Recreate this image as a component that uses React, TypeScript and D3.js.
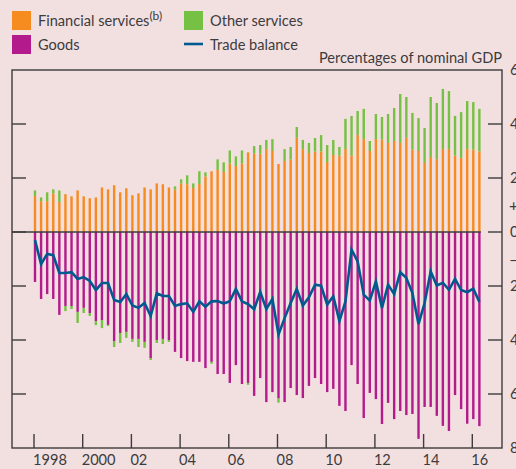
import React, { useEffect, useRef } from 'react';
import * as d3 from 'd3';

// Quarterly data, 1998 Q1 to 2016 Q2, percentages of nominal GDP
const startYear = 1998;

const financialServices = [
  1.33, 1.14, 1.14, 1.43, 1.11, 1.40, 1.32, 1.54, 1.32, 1.25, 1.28, 1.65, 1.58, 1.73, 1.47, 1.62,
  1.36, 1.43, 1.65, 1.58, 1.80, 1.77, 1.65, 1.57, 1.80, 1.77, 1.63, 1.78, 2.06, 2.25, 2.30, 2.22,
  2.54, 2.44, 2.54, 2.95, 2.90, 2.90, 3.07, 3.00, 2.52, 2.63, 2.68, 3.49, 3.07, 2.93, 2.98, 2.98,
  2.59, 2.85, 2.83, 3.07, 2.83, 3.59, 3.44, 3.00, 3.44, 3.42, 3.30, 3.37, 3.30, 3.49, 3.05, 3.00,
  2.56, 2.78, 2.70, 3.07, 3.07, 2.83, 2.75, 3.07, 3.05, 2.98,
];

// positive values stack above financial services, negative ones below goods
const otherServices = [
  0.21, 0.14, 0.33, 0.15, 0.43, -0.19, -0.11, -0.41, -0.19, -0.11, -0.15, -0.30, -0.04, -0.22, -0.37, -0.22,
  -0.11, -0.30, -0.22, -0.07, -0.11, -0.19, -0.07, 0.12, 0.15, 0.33, 0.17, 0.47, 0.15, -0.07, 0.39, 0.36,
  0.48, 0.36, 0.48, -0.07, 0.28, 0.32, 0.34, 0.44, -0.15, 0.44, 0.47, 0.40, 0.34, 0.37, 0.50, 0.61,
  0.63, 0.56, 0.32, 1.12, 1.47, 0.89, 1.12, 0.37, 0.93, 0.84, 1.07, 1.22, 1.81, 1.51, 1.36, 1.22,
  1.29, 2.22, 2.08, 2.23, 2.15, 1.47, 1.69, 1.78, 1.76, 1.58,
];

const goods = [
  -1.85, -2.48, -2.30, -2.48, -3.07, -2.74, -2.74, -2.96, -2.81, -3.00, -3.30, -3.26, -3.44, -4.04, -3.74, -3.70,
  -3.96, -3.96, -4.07, -4.67, -4.00, -3.96, -4.00, -4.44, -4.67, -4.78, -4.81, -4.81, -5.04, -4.81, -5.26, -5.26,
  -5.59, -4.93, -5.63, -5.59, -6.07, -5.41, -6.30, -5.93, -6.17, -6.30, -5.78, -6.04, -6.15, -5.70, -5.41, -5.63,
  -5.93, -5.81, -6.44, -6.63, -4.93, -5.63, -6.89, -5.96, -6.19, -7.11, -6.33, -6.93, -6.63, -6.78, -6.74, -7.66,
  -6.48, -6.48, -6.81, -7.18, -7.37, -6.04, -6.56, -7.10, -6.93, -7.19,
];

const tradeBalance = [
  -0.30, -1.19, -0.81, -0.86, -1.52, -1.52, -1.49, -1.74, -1.67, -1.81, -2.15, -1.89, -1.89, -2.52, -2.59, -2.30,
  -2.72, -2.81, -2.63, -3.11, -2.27, -2.37, -2.37, -2.74, -2.67, -2.64, -2.96, -2.57, -2.77, -2.57, -2.56, -2.65,
  -2.56, -2.11, -2.57, -2.67, -2.86, -2.22, -2.85, -2.48, -3.80, -3.19, -2.63, -2.11, -2.72, -2.42, -1.95, -1.99,
  -2.69, -2.38, -3.30, -2.57, -0.65, -1.09, -2.32, -2.54, -1.83, -2.81, -1.95, -2.30, -1.49, -1.70, -2.26, -3.41,
  -2.63, -1.46, -1.98, -1.88, -2.14, -1.74, -2.15, -2.23, -2.10, -2.59,
];

const yearTicks = [1998, 2000, 2002, 2004, 2006, 2008, 2010, 2012, 2014, 2016];
const yearLabels = ['1998', '2000', '02', '04', '06', '08', '10', '12', '14', '16'];
const yTicks = [6, 4, 2, 0, -2, -4, -6, -8];
const yLabels = ['6', '4', '2', '0', '2', '4', '6', '8'];

const COLORS = {
  bg: '#f2e0e1',
  financial: '#f68b1f',
  other: '#76c043',
  goods: '#b31b8c',
  balance: '#005a8f',
  axis: '#3d3b3c',
  text: '#3d3b3c',
};

const FONT = 'Lato, "Open Sans", sans-serif';
const FONT_SIZE = 14.6;

export default function App() {
  const ref = useRef<SVGSVGElement>(null);

  useEffect(() => {
    const W = 516;
    const H = 469;
    const plot = { left: 12, right: 502, top: 70, bottom: 448 };

    const svg = d3.select(ref.current);
    svg.selectAll('*').remove();

    svg.append('rect').attr('width', W).attr('height', H).attr('fill', COLORS.bg);

    const x = d3.scaleLinear().domain([1998, 2016]).range([34, 472.3]);
    const y = d3.scaleLinear().domain([-8, 6]).range([plot.bottom, plot.top]);
    const quarterX = (i: number) => x(startYear + i / 4) + 1;
    const barW = 2.4;

    const rows = financialServices.map((f, i) => ({
      i,
      fin: f,
      other: otherServices[i],
      goods: goods[i],
      bal: tradeBalance[i],
    }));

    const bars = svg.append('g').attr('class', 'bars');

    // financial services
    bars
      .selectAll('.fin')
      .data(rows)
      .enter()
      .append('rect')
      .attr('x', d => quarterX(d.i) - barW / 2)
      .attr('width', barW)
      .attr('y', d => y(d.fin))
      .attr('height', d => y(0) - y(d.fin))
      .attr('fill', COLORS.financial);

    // goods
    bars
      .selectAll('.goods')
      .data(rows)
      .enter()
      .append('rect')
      .attr('x', d => quarterX(d.i) - barW / 2)
      .attr('width', barW)
      .attr('y', y(0))
      .attr('height', d => y(d.goods) - y(0))
      .attr('fill', COLORS.goods);

    // other services, stacked on the side of its sign
    bars
      .selectAll('.other')
      .data(rows)
      .enter()
      .append('rect')
      .attr('x', d => quarterX(d.i) - barW / 2)
      .attr('width', barW)
      .attr('y', d => (d.other >= 0 ? y(d.fin + d.other) : y(d.goods)))
      .attr('height', d => Math.abs(y(0) - y(Math.abs(d.other))))
      .attr('fill', COLORS.other);

    // zero line
    svg
      .append('line')
      .attr('x1', plot.left)
      .attr('x2', quarterX(rows.length - 1) + 1.5)
      .attr('y1', y(0))
      .attr('y2', y(0))
      .attr('stroke', COLORS.axis)
      .attr('stroke-width', 1.3);

    // trade balance
    const line = d3
      .line<(typeof rows)[number]>()
      .x(d => quarterX(d.i))
      .y(d => y(d.bal));

    svg
      .append('path')
      .datum(rows)
      .attr('d', line)
      .attr('fill', 'none')
      .attr('stroke', COLORS.balance)
      .attr('stroke-width', 2.6)
      .attr('stroke-linejoin', 'miter');

    // frame
    svg
      .append('rect')
      .attr('x', plot.left)
      .attr('y', plot.top)
      .attr('width', plot.right - plot.left)
      .attr('height', plot.bottom - plot.top)
      .attr('fill', 'none')
      .attr('stroke', COLORS.axis)
      .attr('stroke-width', 1.4);

    // y ticks, both sides, pointing inwards
    const ticks = svg.append('g').attr('stroke', COLORS.axis).attr('stroke-width', 1.4);
    yTicks
      .filter(v => v !== 6 && v !== -8)
      .forEach(v => {
        ticks.append('line').attr('x1', plot.left).attr('x2', plot.left + 14).attr('y1', y(v)).attr('y2', y(v));
        ticks.append('line').attr('x1', plot.right - 14).attr('x2', plot.right).attr('y1', y(v)).attr('y2', y(v));
      });

    // x ticks
    yearTicks.forEach(t => {
      ticks.append('line').attr('x1', x(t)).attr('x2', x(t)).attr('y1', plot.bottom).attr('y2', plot.bottom - 14);
    });

    const text = svg
      .append('g')
      .attr('font-family', FONT)
      .attr('font-size', FONT_SIZE)
      .attr('fill', COLORS.text);

    // right axis labels
    yTicks.forEach((v, k) => {
      text
        .append('text')
        .attr('x', 510)
        .attr('y', y(v))
        .attr('dy', '0.36em')
        .text(yLabels[k]);
    });
    text.append('text').attr('x', 509).attr('y', y(1)).attr('dy', '0.36em').attr('font-size', 16).text('+');
    text.append('text').attr('x', 509).attr('y', y(-1)).attr('dy', '0.36em').attr('font-size', 16).text('–');

    // x labels
    yearTicks.forEach((t, k) => {
      text
        .append('text')
        .attr('x', x(t) - 1)
        .attr('y', 465)
        .text(yearLabels[k]);
    });

    text
      .append('text')
      .attr('x', plot.right)
      .attr('y', 63)
      .attr('text-anchor', 'end')
      .text('Percentages of nominal GDP');

    // legend
    const legend = svg.append('g').attr('font-family', FONT).attr('font-size', FONT_SIZE).attr('fill', COLORS.text);
    const swatches = [
      { label: 'Financial services', color: COLORS.financial, lx: 12, ly: 11 },
      { label: 'Goods', color: COLORS.goods, lx: 12, ly: 35 },
      { label: 'Other services', color: COLORS.other, lx: 184, ly: 11 },
    ];
    swatches.forEach(s => {
      legend.append('rect').attr('x', s.lx).attr('y', s.ly).attr('width', 19).attr('height', 19).attr('fill', s.color);
      const t = legend
        .append('text')
        .attr('x', s.lx + 26)
        .attr('y', s.ly + 15)
        .text(s.label);
      if (s.label === 'Financial services') {
        t.append('tspan').attr('dy', -6).attr('font-size', 12).text('(b)');
      }
    });
    legend
      .append('line')
      .attr('x1', 184)
      .attr('x2', 203)
      .attr('y1', 44)
      .attr('y2', 44)
      .attr('stroke', COLORS.balance)
      .attr('stroke-width', 2.6);
    legend.append('text').attr('x', 210).attr('y', 50).text('Trade balance');
  }, []);

  return (
    <svg
      ref={ref}
      width={516}
      height={469}
      style={{ position: 'absolute', left: 0, top: 0, display: 'block' }}
    />
  );
}
